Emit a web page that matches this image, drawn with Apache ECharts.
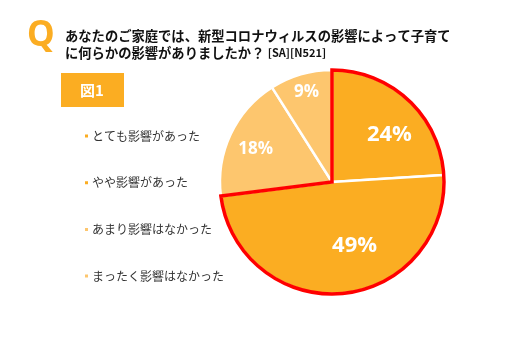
<!DOCTYPE html>
<html><head><meta charset="utf-8">
<script src="https://cdn.jsdelivr.net/npm/echarts@6/dist/echarts.min.js"></script>
<style>html,body{margin:0;padding:0;background:#fff}#c{width:532px;height:348px}</style>
</head><body><div id="c"></div>
<script>
const categories = ['とても影響があった','やや影響があった','あまり影響はなかった','まったく影響はなかった'];
const values = [24, 49, 18, 9];
const titleLine1 = 'あなたのご家庭では、新型コロナウィルスの影響によって子育て';
const titleLine2 = 'に何らかの影響がありましたか？';
const titleTag = '[SA][N521]';
const figLabel = '図1';

const colors = ['#FBAD22','#FBAD22','#FDC66E','#FDC66E'];
const labelSizes = [22, 22, 17, 17];
const labelOffsets = [[17,-4],[17,5],[-23,-8],[-9,-33]];
const FONT = '"Noto Sans CJK JP", "Noto Sans", sans-serif';

const chart = echarts.init(document.getElementById('c'));
const affected = values[0] + values[1];
const rest = values[2] + values[3];
chart.setOption({
  animation: false,
  textStyle: {fontFamily: FONT},
  legend: {
    orient: 'vertical', left: 78, top: 124, itemGap: 32.7,
    itemWidth: 5, itemHeight: 5, icon: 'rect',
    data: categories,
    textStyle: {color: '#333', fontSize: 12, lineHeight: 14, fontFamily: FONT, padding: [0,0,0,-2]},
    selectedMode: false
  },
  graphic: [
    {type: 'text', left: 27, top: 19, style: {text: 'Q', fill: '#FBAD22', font: 'bold 35px "Noto Sans", sans-serif'}},
    {type: 'text', left: 65, top: 29, style: {text: titleLine1, fill: '#111', font: 'bold 13.3px ' + FONT}},
    {type: 'text', left: 65, top: 46, style: {rich: {a: {fill:'#111', font: 'bold 13.3px ' + FONT}, b: {fill:'#111', font: 'bold 11px ' + FONT}}, text: '{a|' + titleLine2 + '} {b|' + titleTag + '}'}},
    {type: 'rect', shape: {x: 61, y: 73, width: 63, height: 34}, style: {fill: '#FBAD22'}},
    {type: 'text', x: 92, y: 90, style: {text: figLabel, fill: '#fff', font: 'bold 15px ' + FONT, align: 'center', verticalAlign: 'middle'}}
  ],
  series: [
    {
      type: 'pie', center: [332, 182], radius: 112, startAngle: 90, clockwise: true,
      silent: true,
      itemStyle: {borderColor: '#fff', borderWidth: 2.5},
      label: {show: true, position: 'inside', formatter: '{c}%', color: '#fff', fontWeight: 'bold', fontFamily: '"Open Sans", "Noto Sans", sans-serif'},
      labelLine: {show: false},
      data: categories.map((n, i) => ({
        name: n, value: values[i],
        itemStyle: {color: colors[i]},
        label: {fontSize: labelSizes[i], offset: labelOffsets[i]}
      }))
    },
    {
      type: 'pie', center: [332, 182], radius: 112, startAngle: 90, clockwise: true,
      silent: true, z: 5,
      label: {show: false}, labelLine: {show: false},
      data: [
        {name: '_a', value: affected, itemStyle: {color: 'rgba(0,0,0,0)', borderColor: '#FF0000', borderWidth: 3.5, borderJoin: 'miter'}},
        {name: '_b', value: rest, itemStyle: {color: 'rgba(0,0,0,0)', borderWidth: 0}}
      ]
    }
  ]
});
</script></body></html>
